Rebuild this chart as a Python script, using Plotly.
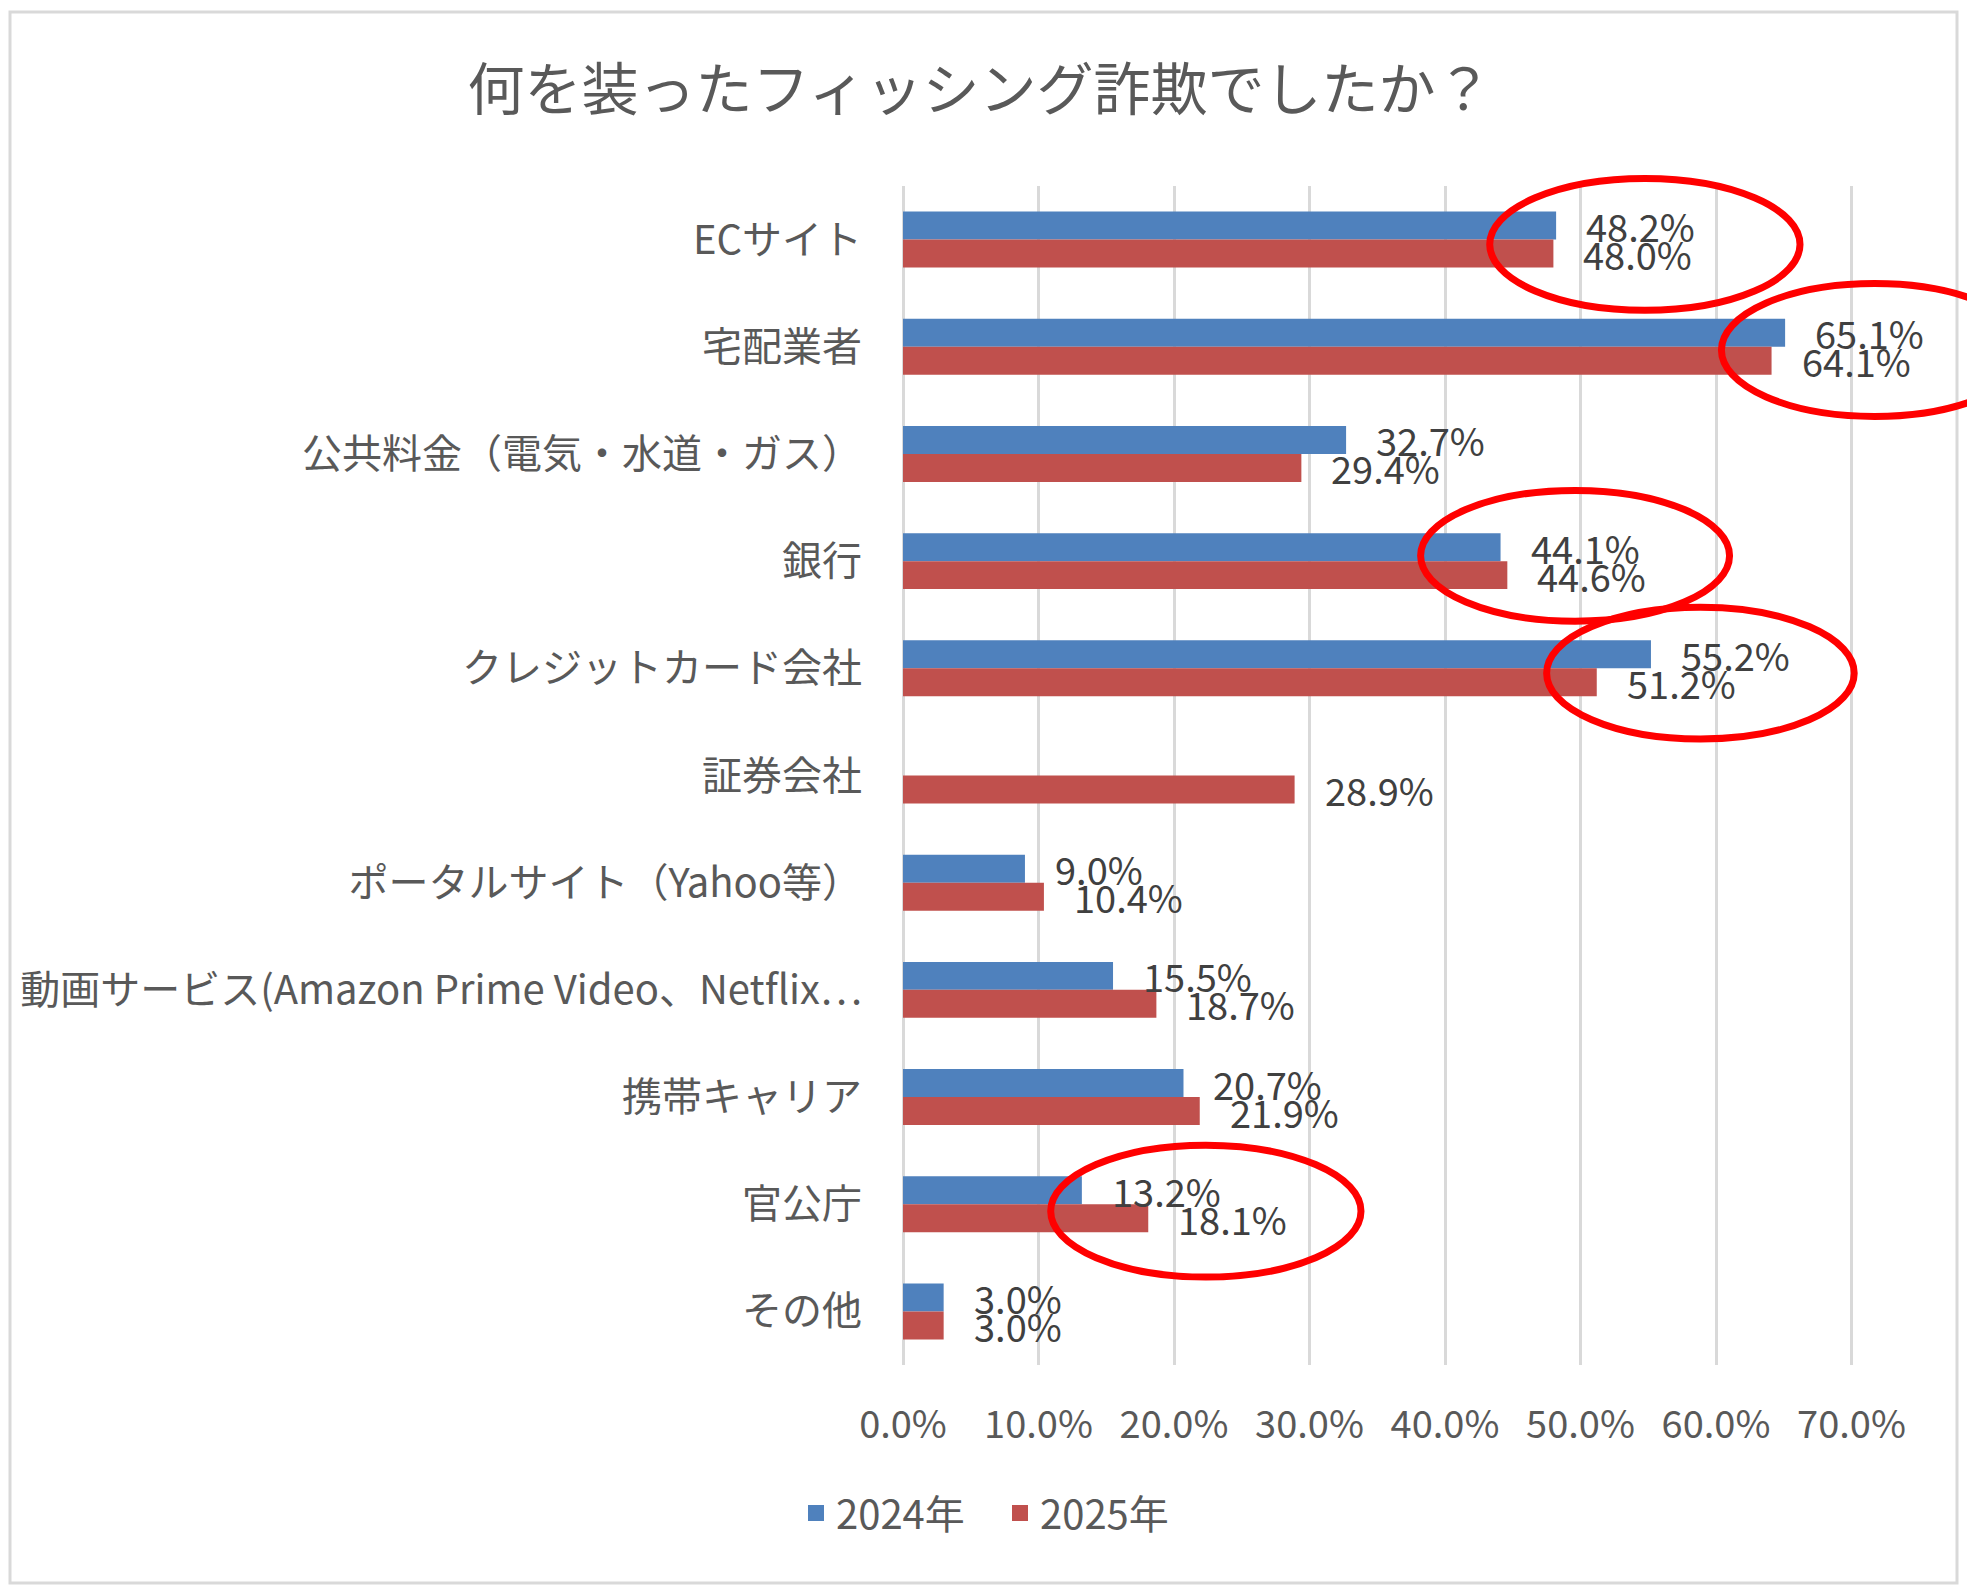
import plotly.graph_objects as go

categories = [
    "ECサイト",
    "宅配業者",
    "公共料金（電気・水道・ガス）",
    "銀行",
    "クレジットカード会社",
    "証券会社",
    "ポータルサイト（Yahoo等）",
    "動画サービス(Amazon Prime Video、Netflix…",
    "携帯キャリア",
    "官公庁",
    "その他",
]
values_2024 = [48.2, 65.1, 32.7, 44.1, 55.2, None, 9.0, 15.5, 20.7, 13.2, 3.0]
values_2025 = [48.0, 64.1, 29.4, 44.6, 51.2, 28.9, 10.4, 18.7, 21.9, 18.1, 3.0]
series_names = ["2024年", "2025年"]
tick_values = [0, 10, 20, 30, 40, 50, 60, 70]
tick_labels = ["0.0%", "10.0%", "20.0%", "30.0%", "40.0%", "50.0%", "60.0%", "70.0%"]
title_text = "何を装ったフィッシング詐欺でしたか？"

# highlighted groups (ellipses): (x0, x1, y0, y1) in data units / category index
highlights = [
    (43.3, 66.2, -0.57, 0.66),
    (60.4, 83.0, 0.41, 1.65),
    (38.2, 61.0, 2.34, 3.56),
    (47.5, 70.2, 3.43, 4.66),
    (10.9, 33.8, 8.45, 9.68),
]

FONT = "Noto Sans CJK JP"
BLUE = "#4F81BD"
RED = "#C0504D"
AXIS_TXT = "#595959"
LABEL_TXT = "#404040"
colors = [BLUE, RED]

W, H = 1967, 1587
L, R, T, B = 903, 0, 186, 222

fig = go.Figure()
for name, vals, col in zip(series_names, (values_2024, values_2025), colors):
    fig.add_trace(go.Bar(y=categories, x=vals, name=name, orientation="h",
                         marker=dict(color=col, line=dict(width=0)),
                         showlegend=False, legendgroup=name))
# legend entries with larger square swatches
for name, col in zip(series_names, colors):
    fig.add_trace(go.Scatter(x=[None], y=[None], mode="markers", name=name,
                             legendgroup=name,
                             marker=dict(symbol="square", size=23, color=col),
                             showlegend=True, hoverinfo="skip"))

annotations = []
for vals, ys in ((values_2024, 14), (values_2025, -14)):
    for c, v in zip(categories, vals):
        if v is None:
            continue
        annotations.append(dict(x=v, y=c, xref="x", yref="y", text=f"{v:.1f}%",
                                showarrow=False, xanchor="left", yanchor="middle",
                                xshift=28, yshift=ys,
                                font=dict(family=FONT, size=38, color=LABEL_TXT)))

n = len(categories)
shapes = []
for x0, x1, y0, y1 in highlights:
    # y given as category index -> convert to y-domain fraction (axis reversed)
    shapes.append(dict(type="circle", xref="x", yref="y domain", x0=x0, x1=x1,
                       y0=1 - (y0 + 0.5) / n, y1=1 - (y1 + 0.5) / n,
                       line=dict(color="#FF0000", width=7), layer="above"))

# chart border (in paper units)
pw = W - L - R
ph = H - T - B
shapes.append(dict(type="rect", xref="paper", yref="paper",
                   x0=(10 - L) / pw, x1=(1957 - L) / pw,
                   y0=(H - B - 1583) / ph, y1=(H - B - 12) / ph,
                   line=dict(color="#D9D9D9", width=3), layer="below"))

fig.update_layout(
    width=W, height=H,
    margin=dict(l=L, r=R, t=T, b=B, pad=0, autoexpand=False),
    paper_bgcolor="white", plot_bgcolor="white",
    barmode="group", bargap=0.478, bargroupgap=0,
    font=dict(family=FONT, color=AXIS_TXT),
    title=dict(text=title_text, x=980 / W, xanchor="center", y=1 - 90 / H, yanchor="middle",
               font=dict(family=FONT, size=57, color=AXIS_TXT)),
    xaxis=dict(range=[0, (W - L - R) / 13.55], tickvals=tick_values, ticktext=tick_labels,
               showgrid=True, gridcolor="#D9D9D9", gridwidth=3,
               zeroline=True, zerolinecolor="#D9D9D9", zerolinewidth=3,
               showline=False, ticks="", ticklabelstandoff=34,
               tickfont=dict(family=FONT, size=38, color=AXIS_TXT)),
    yaxis=dict(categoryorder="array", categoryarray=categories,
               range=[n - 0.5, -0.5], autorange=False,
               showgrid=False, zeroline=False, showline=False, ticks="",
               ticklabelstandoff=40,
               tickfont=dict(family=FONT, size=40, color=AXIS_TXT)),
    legend=dict(orientation="h", x=(1000 - L) / pw, xanchor="center",
                y=(H - B - 1513) / ph, yanchor="middle",
                font=dict(family=FONT, size=40, color=AXIS_TXT),
                itemsizing="trace", traceorder="normal", itemwidth=30,
                entrywidth=159, entrywidthmode="pixels"),
    annotations=annotations,
    shapes=shapes,
)

fig.write_html("out.html")
